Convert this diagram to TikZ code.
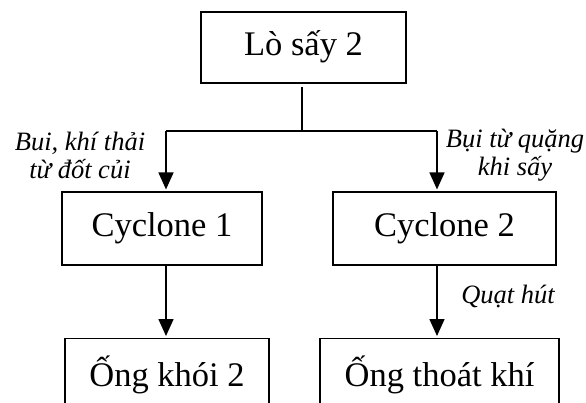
\documentclass[tikz,border=0pt]{standalone}
\usepackage{fontspec}
\setmainfont{Liberation Serif}
\usetikzlibrary{arrows.meta}

\begin{document}
\begin{tikzpicture}[x=0.5pt,y=-0.5pt,
  box/.style={draw, line width=0.6pt, inner sep=0pt, text height=12pt, text depth=3.75pt,
    font=\fontsize{17.25}{20}\selectfont},
  pipe/.style={box, anchor=north, text height=24pt, text depth=16pt},
  flow/.style={line width=0.8pt, -{Triangle[width=7.5pt,length=8.5pt]}},
  note/.style={font=\fontsize{13.25}{14}\selectfont\itshape, align=center}]

  \useasboundingbox (0,0) rectangle (586,403);
  \clip (0,0) rectangle (586,403);

  \node[box, minimum width=102.5pt, minimum height=35.5pt] (lo) at (303.5,47.4) {Lò sấy 2};
  \node[box, minimum width=100pt, minimum height=36.5pt] (cyc1) at (162,228.5) {Cyclone 1};
  \node[box, minimum width=111.5pt, minimum height=36.5pt] (cyc2) at (444.5,228.5) {Cyclone 2};
  \node[pipe, minimum width=102pt] (ong1) at (167,338) {Ống khói 2};
  \node[pipe, minimum width=119.5pt] (ong2) at (439.5,338) {Ống thoát khí};

  \coordinate (split) at (302,131);
  \coordinate (bl) at (166,131);
  \coordinate (br) at (437,131);

  \draw[line width=0.8pt] (split |- 0,87) -- (split);
  \draw[line width=0.8pt] (bl) -- (br);
  \draw[flow] (bl) -- ([yshift=1pt]bl |- cyc1.north);
  \draw[flow] (br) -- ([yshift=1pt]br |- cyc2.north);
  \draw[flow] (bl |- cyc1.south) -- ([yshift=1pt]bl |- ong1.north);
  \draw[flow] (br |- cyc2.south) -- ([yshift=1pt]br |- ong2.north);

  \node[note] (n1) at (80,155) {Bui, khí thải\\từ đốt củi};
  \node[note] (n2) at (515,155) {Bụi từ quặng\\khi sấy};
  \node[note] (n3) at (508,296) {Quạt hút};

\end{tikzpicture}
\end{document}
